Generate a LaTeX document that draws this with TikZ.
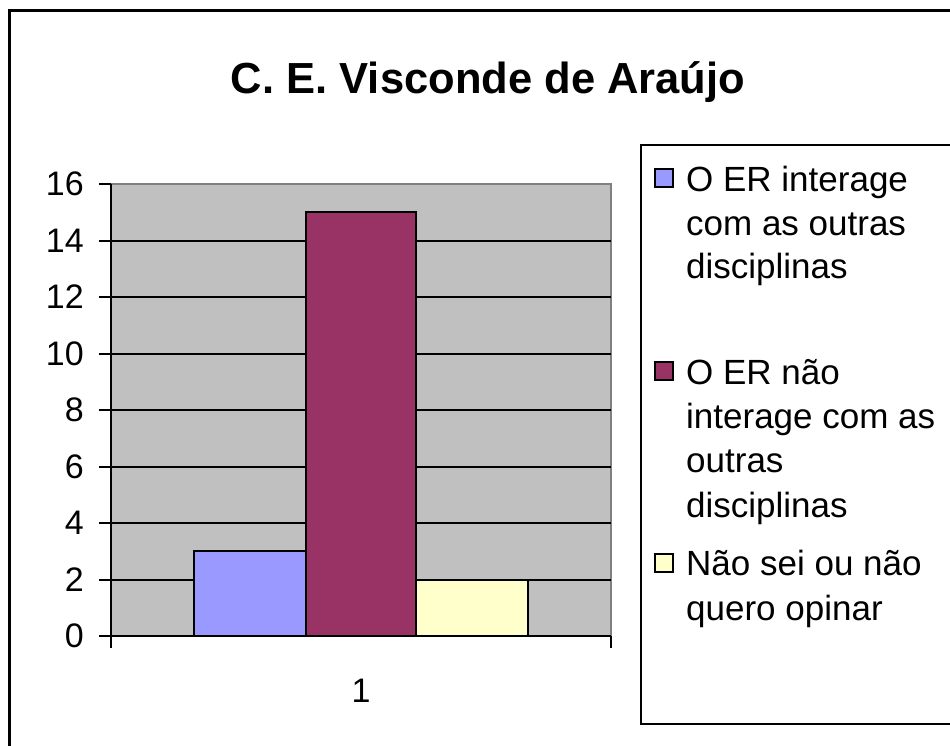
\documentclass[tikz,border=0pt]{standalone}
\usepackage{fontspec}
\setmainfont{Liberation Sans}
\definecolor{plotgray}{HTML}{C0C0C0}
\definecolor{bordergray}{HTML}{808080}
\definecolor{barblue}{HTML}{9999FF}
\definecolor{barpurple}{HTML}{993366}
\definecolor{baryellow}{HTML}{FFFFCC}
\begin{document}
\begin{tikzpicture}[x=1pt,y=-1pt,
  barbox/.style={draw=black,line width=2pt},
  gridline/.style={draw=black,line width=2pt},
  axisline/.style={draw=black,line width=2pt},
  ticklab/.style={anchor=east,inner sep=0pt,font=\fontsize{34}{40}\selectfont},
  legtext/.style={anchor=base west,inner sep=0pt,font=\fontsize{35}{44}\selectfont},
  legkey/.style={draw=black,line width=1.5pt,minimum size=18pt,inner sep=0pt}]
\useasboundingbox (0,0) rectangle (950,745);
\clip (0,0) rectangle (950,745);
\fill[white] (0,0) rectangle (950,745);
\draw[line width=3pt] (9,10) rectangle (1000,800);
% title
\node[anchor=base,inner sep=0pt,font=\bfseries\fontsize{43.5}{50}\selectfont] (title) at (488,93) {C. E. Visconde de Araújo};
% plot
\begin{scope}[shift={(0,636)},y=28.25pt]
  \fill[plotgray] (111,0) rectangle (611,16);
  \draw[bordergray,line width=2pt] (111,16) -- (611,16) -- (611,0);
  \foreach \v in {2,4,...,14} \draw[gridline] (111,\v) -- (611,\v);
  \draw[barbox,fill=barblue] (194,0) rectangle (306,3);
  \draw[barbox,fill=barpurple] (306,0) rectangle (416,15);
  \draw[barbox,fill=baryellow] (416,0) rectangle (528,2);
  \draw[axisline] (111,16) -- (111,0) -- (611,0);
  \foreach \v in {0,2,...,16} {
    \draw[axisline] (99,\v) -- (111,\v);
    \node[ticklab] (tick\v) at (84,\v) {\v};
  }
  \draw[axisline] (111,0) -- (111,-0.425);
  \draw[axisline] (611,0) -- (611,-0.425);
\end{scope}
\node[anchor=base,inner sep=0pt,font=\fontsize{34}{40}\selectfont] (cat1) at (361,702) {1};
% legend
\draw[line width=2pt] (641,145) rectangle (1000,724);
\node[legkey,fill=barblue] (key1) at (664,178) {};
\node[legkey,fill=barpurple] (key2) at (664,371) {};
\node[legkey,fill=baryellow] (key3) at (664,563) {};
\node[legtext] (l1a) at (686,191) {O ER interage};
\node[legtext] (l1b) at (686,235) {com as outras};
\node[legtext] (l1c) at (686,278) {disciplinas};
\node[legtext] (l2a) at (686,384) {O ER não};
\node[legtext] (l2b) at (686,428) {interage com as};
\node[legtext] (l2c) at (686,472) {outras};
\node[legtext] (l2d) at (686,517) {disciplinas};
\node[legtext] (l3a) at (686,575) {Não sei ou não};
\node[legtext] (l3b) at (686,620) {quero opinar};
\end{tikzpicture}
\end{document}
